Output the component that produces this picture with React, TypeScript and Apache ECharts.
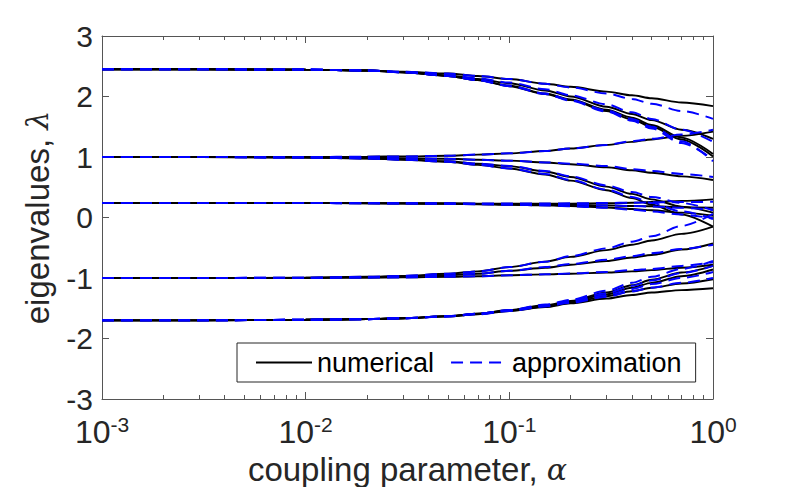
import React, { useEffect, useRef } from 'react';
import * as echarts from 'echarts';

// coupling parameter values (x)
const ALPHA = [0.001, 0.003, 0.01, 0.02, 0.03, 0.05, 0.07, 0.1, 0.15, 0.2, 0.3, 0.4, 0.5, 0.7, 1.0];

// ---- numerical eigenvalues (black solid) ----
const A1_NUM = [2.45, 2.45, 2.445, 2.43, 2.41, 2.38, 2.34, 2.29, 2.21, 2.16, 2.08, 2.02, 1.97, 1.9, 1.84];
const A2_NUM = [2.45, 2.45, 2.445, 2.43, 2.4, 2.35, 2.29, 2.22, 2.1, 2.0, 1.83, 1.71, 1.61, 1.45, 1.3];
const A3_NUM = [2.45, 2.45, 2.445, 2.43, 2.4, 2.34, 2.27, 2.18, 2.05, 1.95, 1.78, 1.65, 1.53, 1.32, 1.05];
const A4_NUM = [2.45, 2.45, 2.445, 2.43, 2.4, 2.34, 2.27, 2.17, 2.04, 1.94, 1.76, 1.62, 1.5, 1.29, 1.01];
const B1_NUM = [1.0, 1.0, 1.0, 1.005, 1.01, 1.02, 1.04, 1.06, 1.1, 1.14, 1.2, 1.25, 1.29, 1.35, 1.42];
const B2_NUM = [1.0, 1.0, 0.995, 0.99, 0.98, 0.97, 0.955, 0.94, 0.91, 0.88, 0.83, 0.78, 0.74, 0.68, 0.62];
const B3_NUM = [1.0, 1.0, 0.99, 0.98, 0.96, 0.93, 0.89, 0.85, 0.76, 0.67, 0.51, 0.39, 0.3, 0.18, 0.08];
const B4_NUM = [1.0, 1.0, 0.99, 0.975, 0.955, 0.92, 0.87, 0.81, 0.71, 0.61, 0.45, 0.32, 0.21, 0.05, -0.15];
const C1_NUM = [0.24, 0.24, 0.24, 0.24, 0.235, 0.235, 0.23, 0.23, 0.23, 0.23, 0.235, 0.245, 0.255, 0.275, 0.3];
const C2_NUM = [0.24, 0.24, 0.24, 0.235, 0.235, 0.23, 0.225, 0.22, 0.215, 0.21, 0.2, 0.19, 0.185, 0.17, 0.16];
const C3_NUM = [0.24, 0.24, 0.24, 0.235, 0.23, 0.225, 0.22, 0.21, 0.2, 0.19, 0.165, 0.14, 0.12, 0.08, 0.03];
const D1_NUM = [-1.0, -1.0, -0.995, -0.98, -0.965, -0.93, -0.89, -0.82, -0.73, -0.65, -0.54, -0.45, -0.38, -0.27, -0.15];
const D2_NUM = [-1.0, -1.0, -0.995, -0.985, -0.975, -0.955, -0.93, -0.88, -0.83, -0.78, -0.72, -0.66, -0.62, -0.53, -0.43];
const D3_NUM = [-1.0, -1.0, -1.0, -0.995, -0.99, -0.98, -0.97, -0.955, -0.94, -0.93, -0.91, -0.89, -0.87, -0.83, -0.78];
const E1_NUM = [-1.7, -1.7, -1.69, -1.68, -1.665, -1.63, -1.59, -1.53, -1.45, -1.38, -1.24, -1.12, -1.03, -0.91, -0.8];
const E2_NUM = [-1.7, -1.7, -1.69, -1.68, -1.665, -1.63, -1.59, -1.535, -1.46, -1.39, -1.27, -1.16, -1.08, -0.97, -0.86];
const E3_NUM = [-1.7, -1.7, -1.69, -1.68, -1.665, -1.635, -1.595, -1.54, -1.47, -1.41, -1.3, -1.22, -1.16, -1.09, -1.02];
const E4_NUM = [-1.7, -1.7, -1.69, -1.68, -1.665, -1.635, -1.6, -1.545, -1.48, -1.42, -1.34, -1.28, -1.24, -1.2, -1.17];

// ---- approximation (blue dashed) ----
const A1_APX = [2.45, 2.45, 2.445, 2.43, 2.41, 2.38, 2.34, 2.29, 2.21, 2.15, 2.05, 1.96, 1.88, 1.76, 1.63];
const A2_APX = [2.45, 2.45, 2.445, 2.43, 2.4, 2.35, 2.3, 2.23, 2.12, 2.02, 1.87, 1.74, 1.63, 1.45, 1.25];
const A3_APX = [2.45, 2.45, 2.445, 2.43, 2.4, 2.34, 2.27, 2.18, 2.05, 1.94, 1.77, 1.63, 1.5, 1.26, 0.93];
const A4_APX = [2.45, 2.45, 2.445, 2.43, 2.4, 2.34, 2.27, 2.17, 2.04, 1.93, 1.75, 1.6, 1.47, 1.23, 0.96];
const B1_APX = [1.0, 1.0, 1.0, 1.005, 1.01, 1.02, 1.04, 1.06, 1.1, 1.14, 1.2, 1.26, 1.3, 1.37, 1.45];
const B2_APX = [1.0, 1.0, 0.995, 0.99, 0.98, 0.97, 0.955, 0.94, 0.91, 0.89, 0.85, 0.8, 0.77, 0.72, 0.67];
const B3_APX = [1.0, 1.0, 0.99, 0.98, 0.96, 0.93, 0.89, 0.85, 0.77, 0.68, 0.53, 0.42, 0.34, 0.24, 0.12];
const B4_APX = [1.0, 1.0, 0.99, 0.975, 0.955, 0.92, 0.87, 0.81, 0.72, 0.62, 0.46, 0.34, 0.24, 0.1, -0.02];
const C1_APX = [0.24, 0.24, 0.24, 0.24, 0.235, 0.235, 0.23, 0.23, 0.23, 0.235, 0.24, 0.245, 0.25, 0.255, 0.26];
const C2_APX = [0.24, 0.24, 0.24, 0.235, 0.235, 0.23, 0.225, 0.22, 0.215, 0.21, 0.2, 0.19, 0.18, 0.16, 0.13];
const C3_APX = [0.24, 0.24, 0.24, 0.235, 0.23, 0.225, 0.22, 0.21, 0.2, 0.185, 0.16, 0.13, 0.1, 0.05, -0.02];
const D1_APX = [-1.0, -1.0, -0.995, -0.98, -0.965, -0.93, -0.89, -0.82, -0.73, -0.64, -0.51, -0.4, -0.31, -0.14, 0.06];
const D2_APX = [-1.0, -1.0, -0.995, -0.985, -0.975, -0.955, -0.93, -0.88, -0.82, -0.77, -0.7, -0.64, -0.59, -0.52, -0.45];
const D3_APX = [-1.0, -1.0, -1.0, -0.995, -0.99, -0.98, -0.97, -0.955, -0.94, -0.925, -0.9, -0.87, -0.85, -0.8, -0.74];
const E1_APX = [-1.7, -1.7, -1.69, -1.68, -1.665, -1.63, -1.59, -1.53, -1.44, -1.36, -1.21, -1.08, -0.98, -0.85, -0.72];
const E2_APX = [-1.7, -1.7, -1.69, -1.68, -1.665, -1.63, -1.59, -1.535, -1.45, -1.38, -1.25, -1.13, -1.04, -0.92, -0.8];
const E3_APX = [-1.7, -1.7, -1.69, -1.68, -1.665, -1.635, -1.595, -1.54, -1.46, -1.4, -1.28, -1.18, -1.1, -1.0, -0.9];
const E4_APX = [-1.7, -1.7, -1.69, -1.68, -1.665, -1.635, -1.6, -1.545, -1.47, -1.41, -1.31, -1.22, -1.16, -1.08, -1.0];

const NUMERICAL = [A1_NUM, A2_NUM, A3_NUM, A4_NUM, B1_NUM, B2_NUM, B3_NUM, B4_NUM, C1_NUM, C2_NUM, C3_NUM, D1_NUM, D2_NUM, D3_NUM, E1_NUM, E2_NUM, E3_NUM, E4_NUM];
const APPROX = [A1_APX, A2_APX, A3_APX, A4_APX, B1_APX, B2_APX, B3_APX, B4_APX, C1_APX, C2_APX, C3_APX, D1_APX, D2_APX, D3_APX, E1_APX, E2_APX, E3_APX, E4_APX];

// ticks
const X_MAJOR = [0.001, 0.01, 0.1, 1];
const X_EXP = ['-3', '-2', '-1', '0'];
const X_MINOR = [0.002, 0.003, 0.004, 0.005, 0.006, 0.007, 0.008, 0.009, 0.02, 0.03, 0.04, 0.05, 0.06, 0.07, 0.08, 0.09, 0.2, 0.3, 0.4, 0.5, 0.6, 0.7, 0.8, 0.9];

const LEGEND_NAMES = ['numerical', 'approximation'];
const X_TITLE = 'coupling parameter, ';
const Y_TITLE = 'eigenvalues, ';

const FONT = '"Liberation Sans", Arial, Helvetica, sans-serif';
const SERIF = '"DejaVu Serif", "Liberation Serif", serif';
const TXT = '#262626';
const AX = '#555555';

export default function App() {
  const ref = useRef<HTMLDivElement>(null);
  useEffect(() => {
    const chart = echarts.init(ref.current!, null, { renderer: 'svg' });
    const toData = (ys: number[]) => ALPHA.map((a, i) => [a, ys[i]]);
    const baseX = {
      type: 'log' as const,
      logBase: 10,
      min: 0.001,
      max: 1,
      gridIndex: 0,
      splitLine: { show: false },
      minorTick: { show: false },
    };
    const series: any[] = [
      ...NUMERICAL.map((ys) => ({
        name: LEGEND_NAMES[0],
        type: 'line',
        data: toData(ys),
        symbol: 'none',
        smooth: 0.3,
        smoothMonotone: 'x',
        lineStyle: { color: '#000000', width: 1.9 },
        itemStyle: { color: '#000000' },
        emphasis: { disabled: true },
        z: 2,
      })),
      ...APPROX.map((ys) => ({
        name: LEGEND_NAMES[1],
        type: 'line',
        data: toData(ys),
        symbol: 'none',
        smooth: 0.3,
        smoothMonotone: 'x',
        lineStyle: { color: '#0000ff', width: 2, type: [12, 7] },
        itemStyle: { color: '#0000ff' },
        emphasis: { disabled: true },
        z: 3,
      })),
    ];
    chart.setOption({
      animation: false,
      backgroundColor: '#ffffff',
      grid: { left: 102, right: 76, top: 36, bottom: 88, containLabel: false, outerBoundsMode: 'none' },
      legend: {
        data: LEGEND_NAMES,
        left: 237,
        top: 343,
        orient: 'horizontal',
        itemWidth: 56,
        itemHeight: 14,
        itemGap: 16,
        padding: [6, 14, 6, 18],
        borderColor: '#262626',
        borderWidth: 1,
        backgroundColor: '#ffffff',
        selectedMode: false,
        itemStyle: { opacity: 0 },
        textStyle: { fontFamily: FONT, fontSize: 27, color: '#000' },
      },
      xAxis: [
        {
          ...baseX,
          position: 'bottom',
          axisLine: { show: true, onZero: false, lineStyle: { color: AX, width: 1 } },
          axisTick: { show: true, inside: true, length: 4, customValues: X_MINOR, lineStyle: { color: AX } },
          axisLabel: {
            show: true,
            customValues: X_MAJOR,
            margin: 15,
            formatter: (v: number) => {
              const idx = X_MAJOR.findIndex((m) => Math.abs(m - v) / m < 1e-6);
              return `{b|10}{s|${X_EXP[idx]}}`;
            },
            rich: {
              b: { fontFamily: FONT, fontSize: 32, color: TXT, lineHeight: 34, verticalAlign: 'bottom' },
              s: { fontFamily: FONT, fontSize: 21, color: TXT, lineHeight: 21, verticalAlign: 'top' },
            },
          },
          name: `{t|${X_TITLE}}{a|α}`,
          nameLocation: 'middle',
          nameGap: 46,
          nameTextStyle: {
            rich: {
              t: { fontFamily: FONT, fontSize: 33, color: TXT },
              a: { fontFamily: SERIF, fontStyle: 'italic', fontSize: 30, color: TXT },
            },
          },
        },
        {
          ...baseX,
          position: 'bottom',
          axisLine: { show: false, onZero: false },
          axisTick: { show: true, inside: true, length: 7, customValues: X_MAJOR, lineStyle: { color: AX } },
          axisLabel: { show: false },
        },
        {
          ...baseX,
          position: 'top',
          axisLine: { show: true, onZero: false, lineStyle: { color: AX, width: 1 } },
          axisTick: { show: true, inside: true, length: 4, customValues: X_MINOR, lineStyle: { color: AX } },
          axisLabel: { show: false },
        },
        {
          ...baseX,
          position: 'top',
          axisLine: { show: false, onZero: false },
          axisTick: { show: true, inside: true, length: 7, customValues: X_MAJOR, lineStyle: { color: AX } },
          axisLabel: { show: false },
        },
      ],
      yAxis: [
        {
          type: 'value',
          min: -3,
          max: 3,
          interval: 1,
          position: 'left',
          splitLine: { show: false },
          axisLine: { show: true, onZero: false, lineStyle: { color: AX, width: 1 } },
          axisTick: { show: true, inside: true, length: 7, lineStyle: { color: AX } },
          axisLabel: { fontFamily: FONT, fontSize: 30, lineHeight: 26, color: TXT, margin: 9 },
          name: `{t|${Y_TITLE}}{a|λ}`,
          nameLocation: 'middle',
          nameGap: 48,
          nameRotate: 90,
          nameTextStyle: {
            rich: {
              t: { fontFamily: FONT, fontSize: 33, color: TXT },
              a: { fontFamily: SERIF, fontStyle: 'italic', fontSize: 30, color: TXT },
            },
          },
        },
        {
          type: 'value',
          min: -3,
          max: 3,
          interval: 1,
          position: 'right',
          splitLine: { show: false },
          axisLine: { show: true, onZero: false, lineStyle: { color: AX, width: 1 } },
          axisTick: { show: true, inside: true, length: 7, lineStyle: { color: AX } },
          axisLabel: { show: false },
        },
      ],
      series,
    });
    return () => chart.dispose();
  }, []);
  return (
    <div
      ref={ref}
      style={{ position: 'fixed', left: 0, top: 0, width: 789, height: 487, background: '#ffffff' }}
    />
  );
}
